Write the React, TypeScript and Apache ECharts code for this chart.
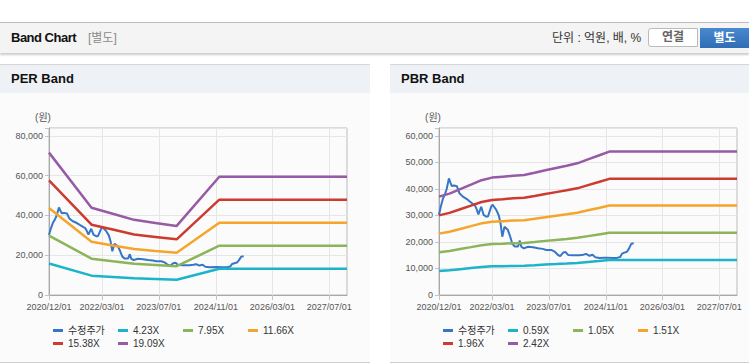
import React, { useEffect, useRef } from 'react';
import * as echarts from 'echarts';

const FONT = '"Liberation Sans", Arial, "Noto Sans CJK KR", sans-serif';

// x-axis
const axisStart = '2020/12/01';
const axisEnd = '2027/12/01';
const axisTickDates = ['2020/12/01', '2022/03/01', '2023/07/01', '2024/11/01', '2026/03/01', '2027/07/01'];

// adjusted price (수정주가)
const priceName = '수정주가';
const priceDates = [
  '2020/12/01', '2020/12/16', '2021/01/05', '2021/01/19', '2021/02/05', '2021/02/24', '2021/03/08', '2021/03/21',
  '2021/04/10', '2021/05/04', '2021/05/25', '2021/06/24', '2021/07/28', '2021/08/22', '2021/09/19', '2021/10/05',
  '2021/10/19', '2021/11/04', '2021/11/28', '2021/12/19', '2022/01/10', '2022/01/25', '2022/02/24', '2022/03/07',
  '2022/03/20', '2022/04/06', '2022/04/28', '2022/05/13', '2022/05/28', '2022/06/16', '2022/07/15', '2022/08/04',
  '2022/08/22', '2022/09/12', '2022/10/10', '2022/10/25', '2022/11/07', '2022/11/28', '2023/01/04', '2023/02/16',
  '2023/03/30', '2023/05/10', '2023/06/09', '2023/07/22', '2023/08/19', '2023/09/18', '2023/10/07', '2023/11/01',
  '2023/11/22', '2023/12/13', '2024/01/25', '2024/03/19', '2024/04/22', '2024/05/16', '2024/06/13', '2024/07/10',
  '2024/08/03', '2024/09/07', '2024/11/04', '2025/01/01', '2025/02/04', '2025/03/04', '2025/03/20', '2025/04/09',
  '2025/05/01', '2025/05/17', '2025/06/07', '2025/06/28',
];
const priceValues = [
  30200, 33300, 36500, 37800, 40000, 44000, 42500, 41100,
  41300, 41000, 38400, 37100, 36200, 35300, 34300, 33800,
  32500, 30400, 33300, 30200, 29600, 29600, 33600, 34000,
  33200, 32100, 30000, 27000, 22000, 25800, 24500, 22000,
  19300, 18300, 18300, 20500, 18200, 17600, 18200, 18000,
  17600, 17400, 17000, 17000, 16400, 15100, 14700, 16000,
  16200, 15100, 15000, 15000, 15200, 15500, 14800, 15200,
  14200, 13950, 14100, 13950, 14000, 14300, 15600, 16000,
  16300, 17400, 19300, 19500,
];

// PER band
const perBandDates = ['2020/12/01', '2021/12/01', '2022/06/01', '2022/12/01', '2023/06/01', '2023/12/01', '2024/12/01', '2027/12/01'];
const perLabels = ['4.23X', '7.95X', '11.66X', '15.38X', '19.09X'];
const per423 = [15870, 9730, 9050, 8380, 8040, 7700, 13190, 13190];
const per795 = [29820, 18290, 17010, 15740, 15110, 14470, 24780, 24780];
const per1166 = [43740, 26820, 24950, 23090, 22150, 21220, 36340, 36340];
const per1538 = [57690, 35370, 32910, 30450, 29220, 27990, 47940, 47940];
const per1909 = [71610, 43910, 40850, 37800, 36270, 34740, 59500, 59500];

// PBR band
const pbrBandDates = [
  '2020/12/01', '2021/03/01', '2021/06/01', '2021/09/01', '2021/12/01', '2022/03/01', '2022/06/01', '2022/09/01',
  '2022/12/01', '2023/03/01', '2023/06/01', '2023/09/01', '2023/12/01', '2024/03/01', '2024/06/01', '2024/09/01',
  '2024/12/01', '2027/12/01',
];
const pbrLabels = ['0.59X', '1.05X', '1.51X', '1.96X', '2.42X'];
const pbr059 = [9050, 9320, 9740, 10150, 10560, 10800, 10890, 10970, 11030, 11240, 11480, 11680, 11890, 12110, 12480, 12830, 13190, 13190];
const pbr105 = [16100, 16590, 17330, 18060, 18800, 19220, 19370, 19530, 19640, 20000, 20420, 20790, 21160, 21560, 22210, 22840, 23470, 23470];
const pbr151 = [23150, 23860, 24920, 25970, 27030, 27630, 27860, 28090, 28240, 28770, 29370, 29900, 30430, 31000, 31940, 32840, 33750, 33750];
const pbr196 = [30050, 30970, 32340, 33710, 35080, 35870, 36160, 36460, 36650, 37340, 38120, 38810, 39490, 40240, 41450, 42630, 43810, 43810];
const pbr242 = [37100, 38240, 39930, 41620, 43320, 44290, 44650, 45010, 45250, 46100, 47070, 47920, 48760, 49680, 51180, 52640, 54090, 54090];

const COLORS = ['#3776c6', '#1db3c8', '#8cb45a', '#f5a52b', '#cc3a30', '#975aa5'];

function parseDate(s: string): number {
  const [y, m, d] = s.split('/').map(Number);
  return new Date(y, m - 1, d).getTime();
}

function fmtDate(v: number): string {
  const d = new Date(v);
  const mm = String(d.getMonth() + 1).padStart(2, '0');
  const dd = String(d.getDate()).padStart(2, '0');
  return `${d.getFullYear()}/${mm}/${dd}`;
}

function buildOption(
  bandDates: string[],
  bandLabels: string[],
  bands: number[][],
  yMax: number,
  yInterval: number,
  labelStep: number,
  gridRight: number
) {
  const tickVals = axisTickDates.map(parseDate);
  const series: any[] = [
    {
      name: priceName,
      type: 'line',
      data: priceDates.map((d, i) => [parseDate(d), priceValues[i]]),
      symbol: 'none',
      showSymbol: false,
      lineStyle: { width: 2, color: COLORS[0] },
      itemStyle: { color: COLORS[0] },
    },
    ...bands.map((vals, k) => ({
      name: bandLabels[k],
      type: 'line',
      data: bandDates.map((d, i) => [parseDate(d), vals[i]]),
      symbol: 'none',
      showSymbol: false,
      lineStyle: { width: 2.5, color: COLORS[k + 1] },
      itemStyle: { color: COLORS[k + 1] },
    })),
  ];
  return {
    animation: false,
    backgroundColor: 'transparent',
    textStyle: { fontFamily: FONT },
    grid: {
      left: 49,
      right: gridRight,
      top: 35,
      height: 167,
      show: true,
      borderColor: '#bbbbbb',
      borderWidth: 1,
      backgroundColor: 'transparent',
      containLabel: false,
      outerBoundsMode: 'none',
    },
    legend: {
      left: 53,
      top: 231,
      width: 262,
      padding: 0,
      itemGap: 0,
      itemWidth: 10,
      itemHeight: 3,
      icon: 'rect',
      textStyle: { fontSize: 10, color: '#333', width: 50, lineHeight: 13, fontFamily: FONT },
      data: [priceName, ...bandLabels],
    },
    xAxis: {
      type: 'value',
      min: parseDate(axisStart),
      max: parseDate(axisEnd),
      axisLine: { show: true, lineStyle: { color: '#a8a8a8', width: 1 } },
      axisTick: { show: true, length: 5, customValues: tickVals, lineStyle: { color: '#c4c4c4' } },
      axisLabel: {
        customValues: tickVals,
        formatter: (v: number) => fmtDate(v),
        fontSize: 9,
        color: '#555',
        margin: 7,
        fontFamily: FONT,
        align: 'center',
        hideOverlap: false,
        showMinLabel: true,
        showMaxLabel: true,
      },
      splitLine: { show: true, lineStyle: { color: '#e6e6e6', width: 1 } },
    },
    yAxis: {
      type: 'value',
      min: 0,
      max: yMax,
      interval: yInterval,
      name: '(원)',
      nameLocation: 'end',
      nameGap: 6,
      nameTextStyle: { fontSize: 10, color: '#555', fontFamily: FONT, align: 'center', padding: [0, 12, 0, 0] },
      axisLine: { show: true, lineStyle: { color: '#a8a8a8', width: 1 } },
      axisTick: { show: true, length: 4, lineStyle: { color: '#c4c4c4' } },
      axisLabel: {
        formatter: (v: number) => (v % labelStep === 0 ? v.toLocaleString('en-US') : ''),
        fontSize: 9,
        color: '#555',
        margin: 6,
        fontFamily: FONT,
      },
      splitLine: { show: true, lineStyle: { color: '#e6e6e6', width: 1 } },
    },
    series,
  };
}

const panelHeader: React.CSSProperties = {
  position: 'absolute',
  top: 64,
  height: 28,
  borderTop: '1px solid #d6d6d6',
  background: '#eef1f6',
  fontWeight: 'bold',
  fontSize: 13,
  lineHeight: '28px',
  color: '#111',
  boxSizing: 'content-box',
};

const panelBody: React.CSSProperties = {
  position: 'absolute',
  top: 93,
  height: 269,
  background: '#fbfbfb',
  borderBottom: '1px solid #d0d0d0',
};

export default function App() {
  const perRef = useRef<HTMLDivElement>(null);
  const pbrRef = useRef<HTMLDivElement>(null);

  useEffect(() => {
    const c1 = echarts.init(perRef.current as HTMLDivElement, undefined, { renderer: 'svg' });
    c1.setOption(
      buildOption(perBandDates, perLabels, [per423, per795, per1166, per1538, per1909], 84000, 20000, 20000, 23) as any
    );
    const c2 = echarts.init(pbrRef.current as HTMLDivElement, undefined, { renderer: 'svg' });
    c2.setOption(
      buildOption(pbrBandDates, pbrLabels, [pbr059, pbr105, pbr151, pbr196, pbr242], 63000, 10000, 10000, 12) as any
    );
    return () => {
      c1.dispose();
      c2.dispose();
    };
  }, []);

  return (
    <div
      style={{
        position: 'fixed',
        left: 0,
        top: 0,
        width: 749,
        height: 364,
        background: '#fff',
        overflow: 'hidden',
        fontFamily: FONT,
      }}
    >
      {/* Top header band */}
      <div
        style={{
          position: 'absolute',
          left: 0,
          top: 22,
          width: 749,
          height: 30,
          background: '#f4f4f4',
          borderTop: '1px solid #bdbdbd',
          boxShadow: '0 2px 2px rgba(0,0,0,0.2)',
        }}
      >
        <span
          style={{
            position: 'absolute',
            left: 11,
            top: 0,
            lineHeight: '30px',
            fontSize: 13,
            fontWeight: 'bold',
            letterSpacing: '-0.5px',
            color: '#111',
          }}
        >
          Band Chart
        </span>
        <span style={{ position: 'absolute', left: 88, top: 0, lineHeight: '30px', fontSize: 12, color: '#8a8a8a' }}>
          [별도]
        </span>
        <span style={{ position: 'absolute', left: 552, top: 0, lineHeight: '30px', fontSize: 12, color: '#333' }}>
          단위 : 억원, 배, %
        </span>
        <div
          style={{
            position: 'absolute',
            left: 648,
            top: 5,
            width: 50,
            height: 19,
            boxSizing: 'border-box',
            border: '1px solid #bbbbbb',
            borderRadius: '3px 0 0 3px',
            background: '#fff',
            color: '#666',
            fontWeight: 'bold',
            fontSize: 12,
            lineHeight: '17px',
            textAlign: 'center',
          }}
        >
          연결
        </div>
        <div
          style={{
            position: 'absolute',
            left: 700,
            top: 5,
            width: 49,
            height: 20,
            background: 'linear-gradient(#4a89cf, #2f6db6)',
            color: '#fff',
            fontWeight: 'bold',
            fontSize: 12,
            lineHeight: '20px',
            textAlign: 'center',
          }}
        >
          별도
        </div>
      </div>

      {/* PER panel */}
      <div style={{ ...panelHeader, left: 0, width: 370 }}>
        <span style={{ marginLeft: 11 }}>PER Band</span>
      </div>
      <div style={{ ...panelBody, left: 0, width: 370 }}>
        <div ref={perRef} style={{ position: 'absolute', left: 0, top: 0, width: 370, height: 269 }} />
      </div>

      {/* PBR panel */}
      <div style={{ ...panelHeader, left: 390, width: 359 }}>
        <span style={{ marginLeft: 11 }}>PBR Band</span>
      </div>
      <div style={{ ...panelBody, left: 390, width: 359 }}>
        <div ref={pbrRef} style={{ position: 'absolute', left: 0, top: 0, width: 359, height: 269 }} />
      </div>
    </div>
  );
}
